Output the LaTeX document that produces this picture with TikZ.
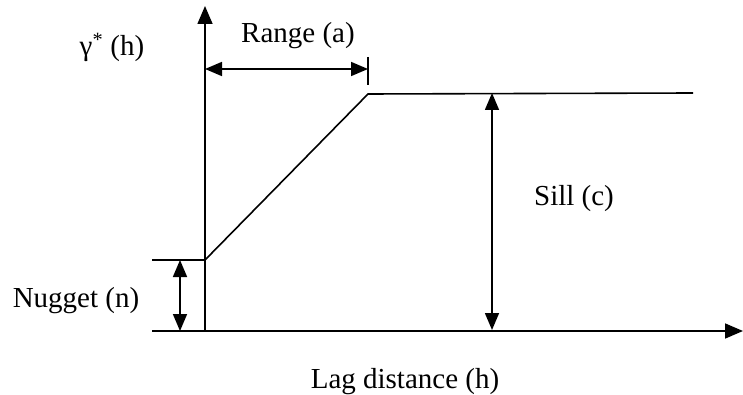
\documentclass[tikz,border=0pt]{standalone}
\usepackage{fontspec}
\setmainfont{Liberation Serif}
\usetikzlibrary{arrows.meta}

\begin{document}
\begin{tikzpicture}[
  x=1pt, y=-1pt,
  font=\fontsize{29}{33}\selectfont,
  ln/.style={draw=black, line width=1.6pt},
  ax/.style={ln, -{Triangle[length=18pt, width=15pt]}},
  dim/.style={ln, {Triangle[length=17pt, width=14pt]}-{Triangle[length=17pt, width=14pt]}},
  lbl/.style={inner sep=0pt, anchor=base}
]
\useasboundingbox (0,0) rectangle (743,395);

% ------------------------------------------------ axes
\coordinate (o)    at (205,331);
\coordinate (ytop) at (205,6);
\coordinate (xl)   at (152,331);
\coordinate (xr)   at (743,331);
\draw[ax] (o) -- (ytop);
\draw[ax] (xl) -- (xr);

% ------------------------------------------------ model curve
\coordinate (n0) at (152,260);
\coordinate (n1) at (205,260);
\coordinate (c1) at (368,94);
\coordinate (c2) at (693,93);
\draw[ln] (n0) -- (n1) -- (c1) -- (c2);

% ------------------------------------------------ range
\coordinate (ra) at (205,69);
\coordinate (rb) at (368,69);
\coordinate (rt1) at (368,57);
\coordinate (rt2) at (368,85);
\draw[ln] (rt1) -- (rt2);
\draw[dim] (ra) -- (rb);
\node[lbl] (range) at (298,43) {Range (a)};

% ------------------------------------------------ nugget
\coordinate (na) at (180,260);
\coordinate (nb) at (180,331);
\draw[dim] (na) -- (nb);
\node[lbl] (nugget) at (76,307) {Nugget (n)};

% ------------------------------------------------ sill
\coordinate (sa) at (492,93);
\coordinate (sb) at (492,330);
\draw[dim] (sa) -- (sb);
\node[lbl] (sill) at (574,205) {Sill (c)};

% ------------------------------------------------ axis labels
\node[lbl] (gam) at (112,56) {γ\textsuperscript{*} (h)};
\node[lbl] (lag) at (405,388) {Lag distance (h)};
\end{tikzpicture}
\end{document}
